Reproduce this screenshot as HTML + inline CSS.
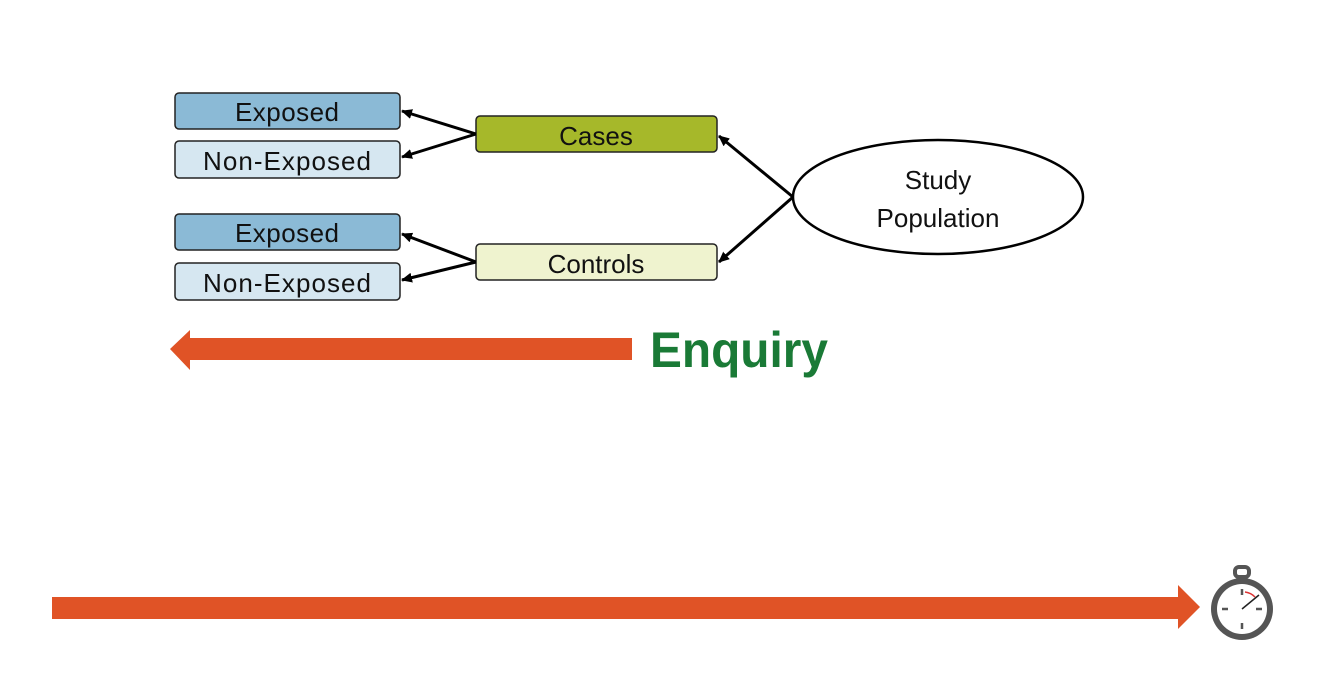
<!DOCTYPE html>
<html><head><style>
body{margin:0;background:#fff;width:1334px;height:668px;overflow:hidden}
</style></head><body>
<svg width="1334" height="668" xmlns="http://www.w3.org/2000/svg" font-family="Liberation Sans, sans-serif">
<defs><marker id="a" markerWidth="11" markerHeight="10" refX="10" refY="5" orient="auto" markerUnits="userSpaceOnUse"><path d="M0,0 L11,5 L0,10 z" fill="#000"/></marker></defs>
<g stroke="#222" stroke-width="1.5">
<rect x="175" y="93" width="225" height="36" rx="4" fill="#8bbad6"/>
<rect x="175" y="141" width="225" height="37" rx="4" fill="#d6e7f1"/>
<rect x="175" y="214" width="225" height="36" rx="4" fill="#8bbad6"/>
<rect x="175" y="263" width="225" height="37" rx="4" fill="#d6e7f1"/>
<rect x="476" y="116" width="241" height="36" rx="4" fill="#a6b82a"/>
<rect x="476" y="244" width="241" height="36" rx="4" fill="#eff3cf"/>
<ellipse cx="938" cy="197" rx="145" ry="57" fill="#fff" stroke="#000" stroke-width="2.5"/>
</g>
<g stroke="#000" stroke-width="3" marker-end="url(#a)">
<line x1="476" y1="134" x2="402" y2="111"/>
<line x1="476" y1="134" x2="402" y2="157"/>
<line x1="476" y1="262" x2="402" y2="234"/>
<line x1="476" y1="262" x2="402" y2="280"/>
<line x1="793" y1="197" x2="719" y2="136"/>
<line x1="793" y1="197" x2="719" y2="262"/>
</g>
<g font-size="26" fill="#111" text-anchor="middle" transform="translate(0,1)">
<text x="287" y="120" textLength="104">Exposed</text>
<text x="287" y="169" textLength="168">Non-Exposed</text>
<text x="287" y="241" textLength="104">Exposed</text>
<text x="287" y="291" textLength="168">Non-Exposed</text>
<text x="596" y="144">Cases</text>
<text x="596" y="272">Controls</text>
<text x="938" y="188">Study</text>
<text x="938" y="226">Population</text>
</g>
<path d="M632,338 L190,338 L190,330 L170,349 L190,370 L190,360 L632,360 z" fill="#e05326"/>
<text x="650" y="367" font-size="50" font-weight="bold" fill="#1a7a36" textLength="178" lengthAdjust="spacingAndGlyphs">Enquiry</text>
<path d="M52,597 L1178,597 L1178,585 L1200,607 L1178,629 L1178,619 L52,619 z" fill="#e05326"/>
<g>
<rect x="1235" y="567" width="14" height="10" rx="4" fill="none" stroke="#555" stroke-width="4"/>
<circle cx="1242" cy="609" r="31" fill="#555"/>
<circle cx="1242" cy="609" r="25" fill="#fff"/>
<line x1="1242" y1="609" x2="1259" y2="595" stroke="#222" stroke-width="1.5"/>
<path d="M1245,592 A17,17 0 0 1 1255,597" stroke="#d33" fill="none" stroke-width="1.5"/>
<line x1="1242" y1="589" x2="1242" y2="595" stroke="#555" stroke-width="2.5"/>
<line x1="1242" y1="623" x2="1242" y2="629" stroke="#555" stroke-width="2.5"/>
<line x1="1222" y1="609" x2="1228" y2="609" stroke="#555" stroke-width="2.5"/>
<line x1="1256" y1="609" x2="1262" y2="609" stroke="#555" stroke-width="2.5"/>
</g>
</svg>
</body></html>
